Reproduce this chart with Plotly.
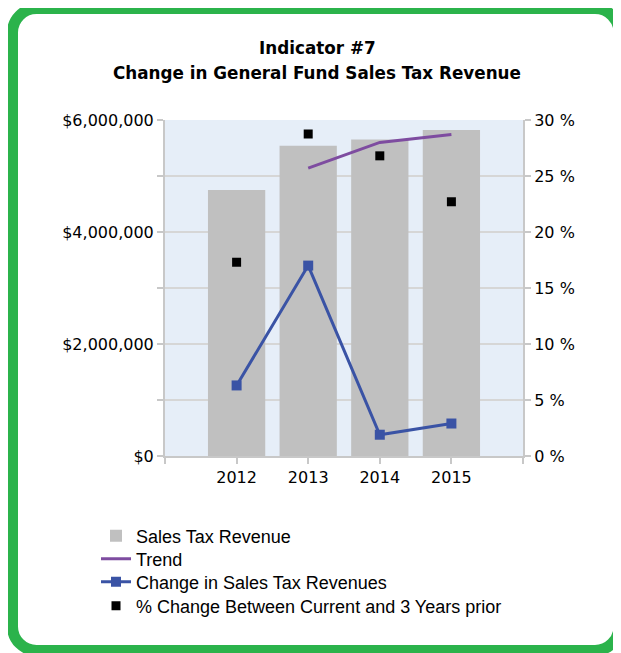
import plotly.graph_objects as go

# Indicator #7 - General Fund sales tax revenue
years = [2012, 2013, 2014, 2015]
revenue = [4750000, 5540000, 5650000, 5820000]
trend_years = [2013, 2014, 2015]
trend_pct = [25.7, 28.0, 28.7]
change_pct = [6.3, 17.0, 1.9, 2.9]
change_3yr_pct = [17.3, 28.75, 26.8, 22.7]

# page body has an 8px margin, so the figure is drawn 8px in from the corner
OFF = 8
W, H = 621 - OFF, 653 - OFF
L, T = 165 - OFF, 120 - OFF
PW, PH = 358, 336
R, B = W - L - PW, H - T - PH


def px(sx, sy):
    # screen pixel -> paper coordinates
    return (sx - OFF - L) / PW, (T + PH - (sy - OFF)) / PH


def frame_path(x0, y0, x1, y1, r):
    k = 0.5523 * r
    pts = [
        ("M", [(x0 + r, y0)]),
        ("L", [(x1 - r, y0)]),
        ("C", [(x1 - r + k, y0), (x1, y0 + r - k), (x1, y0 + r)]),
        ("L", [(x1, y1 - r)]),
        ("C", [(x1, y1 - r + k), (x1 - r + k, y1), (x1 - r, y1)]),
        ("L", [(x0 + r, y1)]),
        ("C", [(x0 + r - k, y1), (x0, y1 - r + k), (x0, y1 - r)]),
        ("L", [(x0, y0 + r)]),
        ("C", [(x0, y0 + r - k), (x0 + r - k, y0), (x0 + r, y0)]),
    ]
    out = ""
    for cmd, ps in pts:
        out += cmd + " " + " ".join("%.5f,%.5f" % px(a, b) for a, b in ps) + " "
    return out + "Z"


fig = go.Figure()

fig.add_trace(go.Bar(
    x=years, y=revenue, name="Sales Tax Revenue", legend="legend",
    marker=dict(color="#c0c0c0", line=dict(width=0)), width=0.8,
))
fig.add_trace(go.Scatter(
    x=trend_years, y=trend_pct, name="Trend", yaxis="y2", legend="legend2",
    mode="lines", line=dict(color="#7e4ca0", width=3),
))
fig.add_trace(go.Scatter(
    x=years, y=change_pct, name="Change in Sales Tax Revenues", yaxis="y2",
    legend="legend3",
    mode="lines+markers", line=dict(color="#3a53a5", width=3),
    marker=dict(symbol="square", size=10, color="#3a53a5"),
))
fig.add_trace(go.Scatter(
    x=years, y=change_3yr_pct, name="% Change Between Current and 3 Years prior",
    yaxis="y2", legend="legend4", mode="markers",
    marker=dict(symbol="square", size=9, color="#000000"),
))

tick_font = dict(family="DejaVu Sans", size=16, color="#000000")
axis_col = "#c8c8c8"


def legend_at(sy):
    return dict(
        x=px(96, 0)[0], xanchor="left", y=px(0, sy)[1], yanchor="middle",
        font=dict(family="Liberation Sans", size=18, color="#000000"),
        bgcolor="rgba(0,0,0,0)",
    )


fig.update_layout(
    width=W, height=H,
    margin=dict(l=L, r=R, t=T, b=B),
    paper_bgcolor="white",
    plot_bgcolor="#e6eef8",
    showlegend=True,
    xaxis=dict(
        range=[2011, 2016],
        tickvals=[2011] + years + [2016],
        ticktext=[""] + [str(y) for y in years] + [""],
        ticks="outside", ticklen=6, tickcolor=axis_col, tickwidth=2,
        showline=True, linecolor=axis_col, linewidth=2,
        showgrid=False, zeroline=False, tickfont=tick_font,
    ),
    yaxis=dict(
        range=[0, 6000000], dtick=2000000, tickprefix="$", tickformat=",",
        ticks="outside", ticklen=6, tickcolor=axis_col, tickwidth=2,
        showline=True, linecolor=axis_col, linewidth=2,
        showgrid=True, gridcolor="#d6d6d6", gridwidth=2,
        minor=dict(dtick=1000000, showgrid=True, gridcolor="#d6d6d6", gridwidth=2,
                   ticks="outside", ticklen=6, tickcolor=axis_col, tickwidth=2),
        zeroline=False, tickfont=tick_font,
    ),
    yaxis2=dict(
        range=[0, 30], dtick=5, ticksuffix=" %", overlaying="y", side="right",
        ticks="outside", ticklen=6, tickcolor=axis_col, tickwidth=2,
        showline=True, linecolor=axis_col, linewidth=2,
        showgrid=False, zeroline=False, tickfont=tick_font,
    ),
    legend=legend_at(536),
    legend2=legend_at(559),
    legend3=legend_at(582),
    legend4=legend_at(606),
    bargap=0.2,
)

title_font = dict(family="DejaVu Sans", size=16.8, color="#000000", weight="bold")
for line, sy in [("Indicator #7", 48), ("Change in General Fund Sales Tax Revenue", 73)]:
    ax, ay = px(317, sy)
    fig.add_annotation(text=line, x=ax, y=ay, xref="paper", yref="paper",
                       xanchor="center", yanchor="middle", showarrow=False,
                       font=title_font)

fig.add_shape(
    type="path", xref="paper", yref="paper",
    path=frame_path(12.5, 8.5, 619, 650.5, 24),
    line=dict(color="#2bb34b", width=11), fillcolor="rgba(0,0,0,0)",
    layer="above",
)

fig.write_html("out.html")
